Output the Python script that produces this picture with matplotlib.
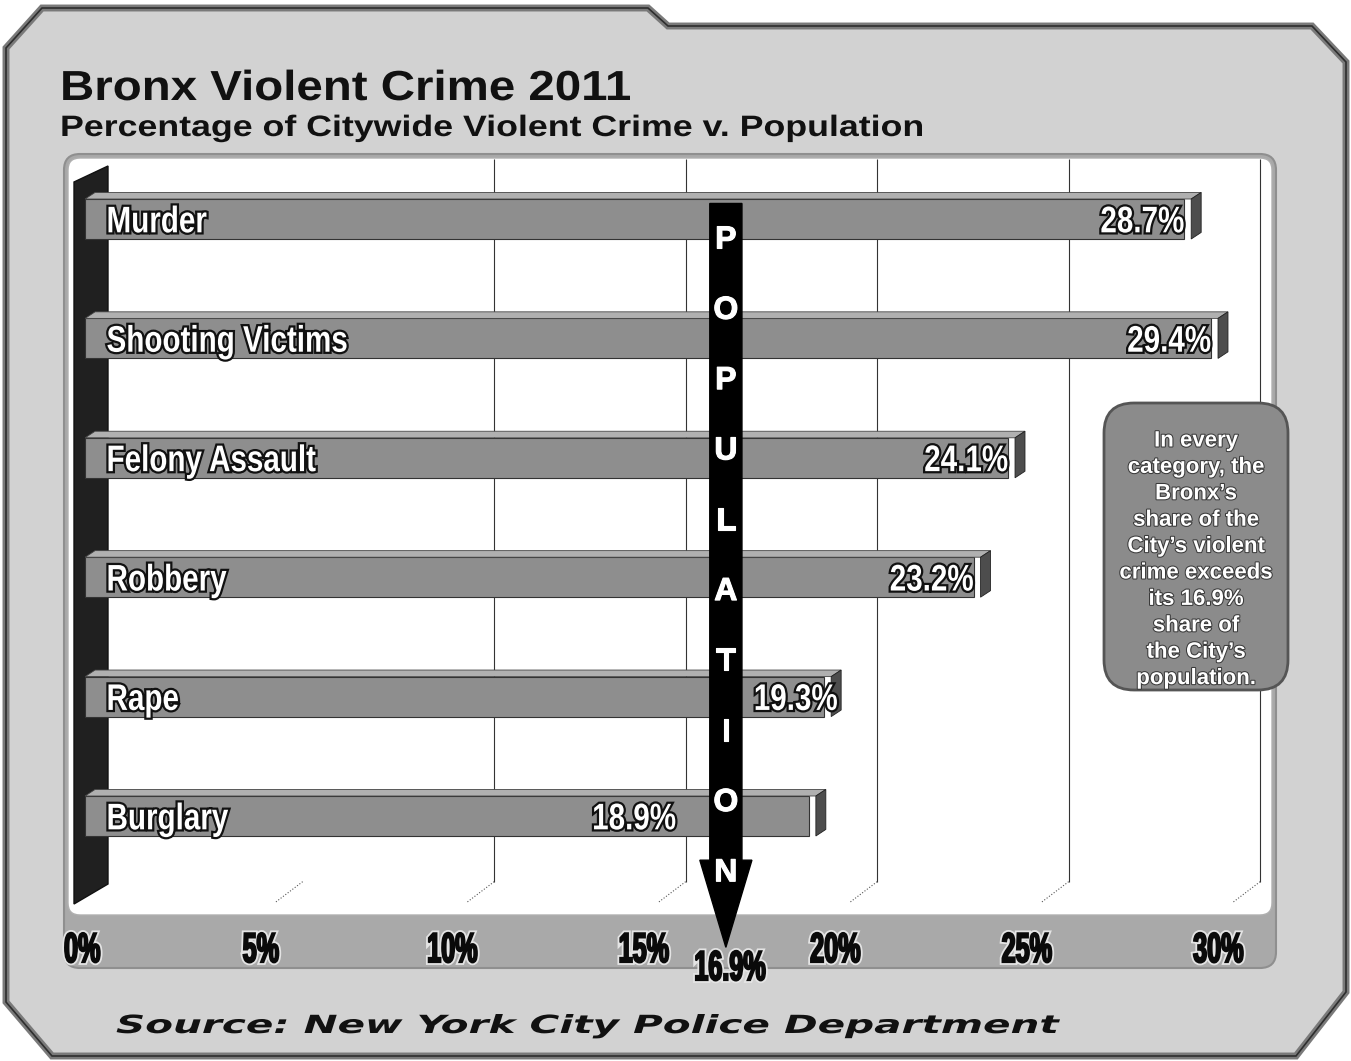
import matplotlib
matplotlib.use("Agg")
import matplotlib.pyplot as plt
import matplotlib.patheffects as pe
import matplotlib.transforms as mtransforms
from matplotlib.patches import Polygon, FancyBboxPatch, PathPatch
from matplotlib.textpath import TextPath
from matplotlib.font_manager import FontProperties
import numpy as np

# data
categories = ["Murder", "Shooting Victims", "Felony Assault", "Robbery", "Rape", "Burglary"]
shares = [28.7, 29.4, 24.1, 23.2, 19.3, 18.9]
population_share = 16.9
ticks = [0, 5, 10, 15, 20, 25, 30]
tick_labels = ["0%", "5%", "10%", "15%", "20%", "25%", "30%"]
arrow_word = "POPULATION"
note_lines = ["In every", "category, the", "Bronx\u2019s", "share of the",
              "City\u2019s violent", "crime exceeds", "its 16.9%", "share of",
              "the City\u2019s", "population."]

W, H = 1351, 1061
fig = plt.figure(figsize=(W / 100, H / 100), dpi=100)
fig.patch.set_facecolor("white")

# background layer in pixel units (y downwards)
bg = fig.add_axes([0, 0, 1, 1])
bg.set_xlim(0, W)
bg.set_ylim(H, 0)
bg.axis("off")


def cond_text(x, y, s, size, trans, sx=1.0, width=None, ha="left", va="center",
              family="Liberation Sans", weight="bold", style="normal",
              color="white", effects=None, z=8):
    # text drawn as a path so it can be squeezed / stretched sideways
    prop = FontProperties(family=family, weight=weight, style=style)
    tp = TextPath((0, 0), s, size=size, prop=prop)
    ext = tp.get_extents()
    if width is not None:
        sx = width / ext.x1
    w = ext.x1 * sx
    off_x = {"left": 0.0, "center": -w / 2, "right": -w}[ha]
    off_y = -0.36 * size if va == "center" else 0.0
    t = (mtransforms.Affine2D().scale(sx, 1).translate(off_x, off_y)
         + mtransforms.ScaledTranslation(x, y, trans))
    p = PathPatch(tp, transform=t, facecolor=color, edgecolor="none", zorder=z)
    if effects:
        p.set_path_effects(effects)
    fig.add_artist(p)
    return p


white_fx = [pe.Stroke(linewidth=3.2, foreground="#111111"), pe.Normal()]
black_fx = [pe.Stroke(linewidth=4.0, foreground="#e4e4e4"),
            pe.Stroke(linewidth=1.4, foreground="#0a0a0a"), pe.Normal()]

# outer frame with the tab at the top left
frame = [(42, 8), (648, 8), (668, 26), (1312, 26), (1346, 62), (1346, 992),
         (1296, 1056), (52, 1056), (6, 1002), (6, 48)]
bg.add_patch(Polygon(frame, closed=True, fc="#d2d2d2", ec="#7a7a7a", lw=5))
bg.add_patch(Polygon(frame, closed=True, fc="none", ec="#2e2e2e", lw=1.2))

# panel: grey band at the bottom, white plotting area above it
bg.add_patch(FancyBboxPatch((64, 154), 1212, 814, boxstyle="round,pad=0,rounding_size=16",
                            fc="#a9a9a9", ec="#8f8f8f", lw=1.5))
bg.add_patch(FancyBboxPatch((68, 158), 1204, 757, boxstyle="round,pad=0,rounding_size=12",
                            fc="white", ec="#b0b0b0", lw=1.0))

# dark left wall
bg.add_patch(Polygon([(74, 182), (108, 166), (108, 884), (74, 904)], closed=True,
                     fc="#202020", ec="#111111", lw=1))

# titles
cond_text(60, 100, "Bronx Violent Crime 2011", 42, bg.transData, width=570,
          va="baseline", color="#111111")
cond_text(60, 136, "Percentage of Citywide Violent Crime v. Population", 29.5,
          bg.transData, width=862, va="baseline", color="#111111")
cond_text(116, 1033, "Source: New York City Police Department", 25, bg.transData,
          width=944, va="baseline", family="DejaVu Sans", style="oblique",
          color="#111111")

# data axes
x0_px, px_per = 92, 38.3
left_px, right_px, top_px, bot_px = 64, 1276, 154, 915
row0, row_step = 219, 119.4
ax = fig.add_axes([left_px / W, 1 - bot_px / H, (right_px - left_px) / W, (bot_px - top_px) / H])
ax.set_xlim((left_px - x0_px) / px_per, (right_px - x0_px) / px_per)
ax.set_ylim((bot_px - row0) / row_step, (top_px - row0) / row_step)
ax.axis("off")
ax.patch.set_alpha(0)

rows = np.arange(len(categories))

# back wall grid lines and floor diagonals
for t in ticks[1:]:
    if t >= 10:
        ax.vlines(t + 0.5, -0.5, 5.55, color="#333333", lw=0.8, zorder=1)
    ax.plot([t + 0.5, t - 0.2], [5.55, 5.72], color="#555555", lw=0.8, ls=":", zorder=1)

# bars with a little 3D depth
bh, dx, dy = 0.335, 0.26, 0.055
ax.barh(rows, shares, height=bh, left=-0.18, color="#8e8e8e", edgecolor="#333333",
        lw=0.8, zorder=3)
for r, v in zip(rows, shares):
    top = r - bh / 2
    ax.add_patch(Polygon([(-0.18, top), (v, top), (v + dx, top - dy), (dx - 0.18, top - dy)],
                         closed=True, fc="#b0b0b0", ec="#444444", lw=0.6, zorder=3))
    ax.add_patch(Polygon([(v, top), (v + dx, top - dy), (v + dx, top + bh - dy), (v, top + bh)],
                         closed=True, fc="#4d4d4d", ec="#222222", lw=0.6, zorder=3))

# population arrow
ac = population_share - 0.35
ax.add_patch(Polygon([(ac - 0.42, -0.13), (ac + 0.42, -0.13), (ac + 0.42, 5.37),
                      (ac + 0.68, 5.37), (ac, 6.1), (ac - 0.68, 5.37), (ac - 0.42, 5.37)],
                     closed=True, fc="black", ec="black", zorder=5, clip_on=False))
for letter, yy in zip(arrow_word, np.linspace(0.18, 5.48, len(arrow_word))):
    ax.text(ac, yy, letter, ha="center", va="center", color="white", fontsize=23,
            fontweight="bold", family="Liberation Sans", zorder=6, clip_on=False,
            path_effects=[pe.withStroke(linewidth=0.8, foreground="white")])

# category and value labels
arrow_l, arrow_r = ac - 0.42, ac + 0.42
lab_w = 2.1
for r, name, v in zip(rows, categories, shares):
    cond_text(0.38, r, name, 37, ax.transData, sx=0.8, effects=white_fx)
    lab_r = v - 0.2
    if lab_r - lab_w < arrow_r + 0.3:
        lab_r = v + 0.15
        if lab_r - lab_w < arrow_r + 0.3:
            lab_r = arrow_l - 0.9
    cond_text(lab_r, r, f"{v:.1f}%", 37, ax.transData, sx=0.8, ha="right",
              effects=white_fx)

# x tick labels in the grey band
band = mtransforms.blended_transform_factory(ax.transData, bg.transData)
for t, lab in zip(ticks, tick_labels):
    if t == 0:
        cond_text(ax.get_xlim()[0], 947, lab, 42, band, sx=0.6, ha="left",
                  color="#0a0a0a", effects=black_fx)
    else:
        cond_text(t - 0.6, 947, lab, 42, band, sx=0.6, ha="center",
                  color="#0a0a0a", effects=black_fx)
cond_text(ac + 0.1, 965, f"{population_share:.1f}%", 42, band, sx=0.6,
          ha="center", color="#0a0a0a", effects=black_fx, z=4)

# note box, on the figure so it sits above the grid lines
note = FancyBboxPatch((1104, 403), 184, 287, boxstyle="round,pad=0,rounding_size=30",
                      fc="#8b8b8b", ec="#555555", lw=2, zorder=7,
                      transform=bg.transData)
fig.add_artist(note)
for i, line in enumerate(note_lines):
    fig.text(1196, 441 + i * 26.4, line, ha="center", va="center", fontsize=16,
             fontweight="bold", family="Liberation Sans", color="white", zorder=8,
             transform=bg.transData,
             path_effects=[pe.withStroke(linewidth=1.5, foreground="#3a3a3a")])

fig.savefig("out.png", dpi=100)
